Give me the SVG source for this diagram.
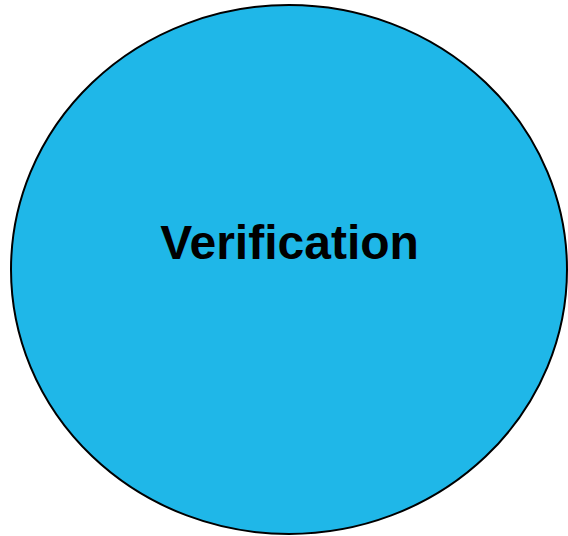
<svg xmlns="http://www.w3.org/2000/svg" width="568" height="536" viewBox="0 0 568 536">
<style>
.node{fill:#1fb7e8;stroke:#000;stroke-width:2}
.label{font-family:"Liberation Sans",Arial,sans-serif;font-weight:bold;font-size:48px;fill:#000}
</style>
<rect width="568" height="536" fill="#fff"/>
<g id="connectors"></g>
<g id="verification">
<ellipse class="node" cx="289" cy="269.5" rx="278" ry="264.5"/>
<text class="label" x="289.5" y="259" text-anchor="middle">Verification</text>
</g>
</svg>
